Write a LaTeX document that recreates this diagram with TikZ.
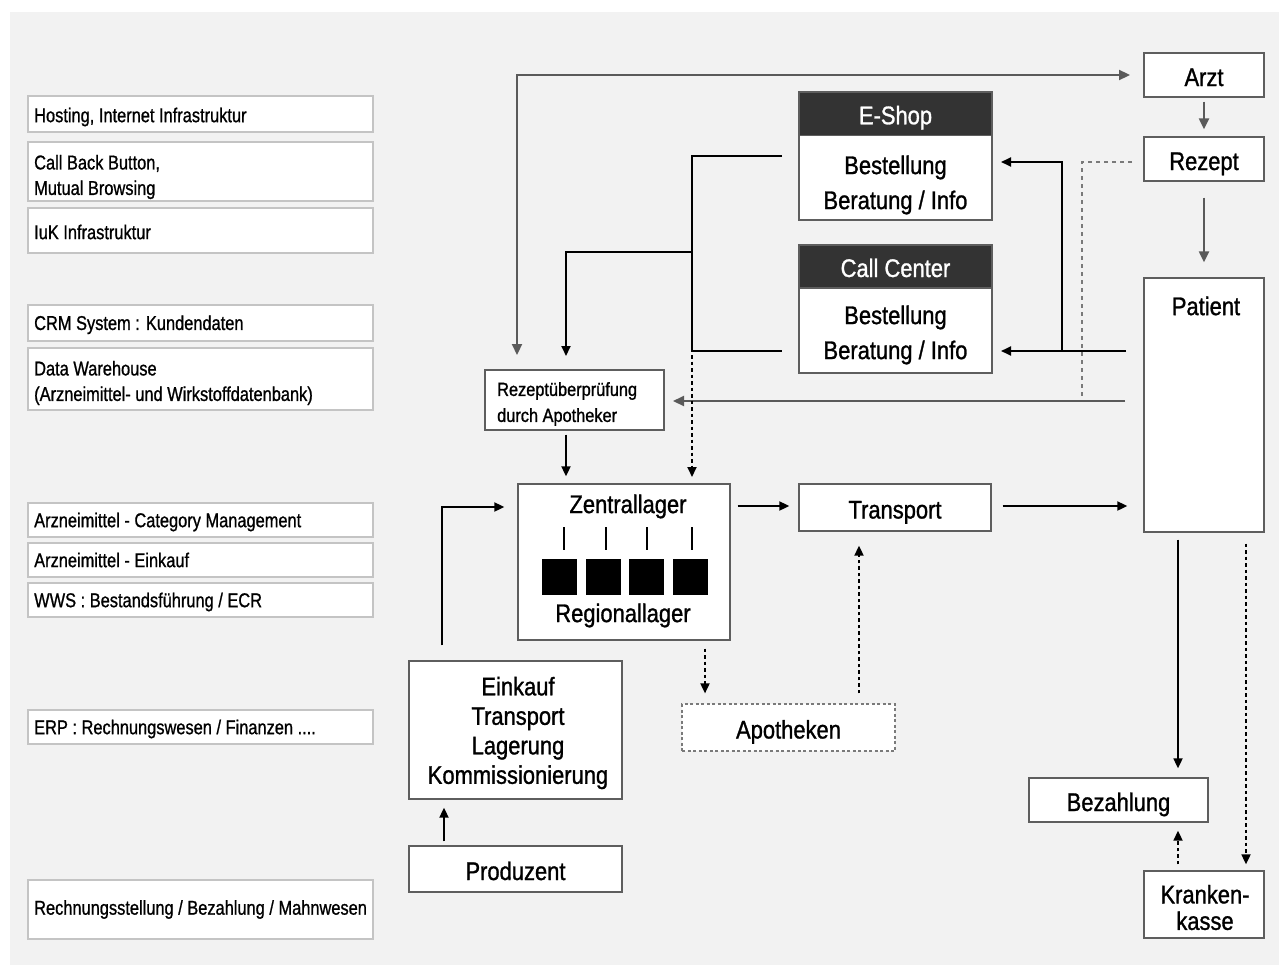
\documentclass[tikz,border=0pt]{standalone}
\usepackage{fontspec}
\setmainfont[FakeStretch=0.86,FakeBold=1.1]{Liberation Sans}
\newfontfamily\leftfont[FakeStretch=0.82,FakeBold=0.9]{Liberation Sans}
\usetikzlibrary{arrows.meta}
\definecolor{bg}{HTML}{F2F2F2}
\definecolor{hdr}{HTML}{333333}
\definecolor{bord}{HTML}{5E5E5E}
\definecolor{lbord}{HTML}{C4C4C4}
\definecolor{garrow}{HTML}{5A5A5A}
\definecolor{gdash}{HTML}{7A7A7A}
\newcommand\lbx[5]{%
  \node[lbox, minimum height=#3] (#1) at (200.5,#2) {};
  \node[ltxt] (#1t) at (34,#4) {#5};}
\begin{document}
\begin{tikzpicture}[x=1pt,y=-1pt,
  lbox/.style={draw=lbord, line width=1.2pt, fill=white, inner sep=0pt, minimum width=345},
  ltxt/.style={anchor=west, inner sep=0pt, align=left, font=\leftfont\fontsize{20}{25.5}\selectfont},
  mbox/.style={draw=bord, line width=1.3pt, fill=white, inner sep=0pt, align=center, font=\fontsize{25.5}{30}\selectfont},
  one/.style={text height=22pt, text depth=0pt},
  hbox/.style={draw=bord, line width=1.3pt, fill=hdr, text=white, inner sep=0pt, font=\fontsize{25.5}{30}\selectfont, text height=21pt, text depth=0pt},
  txt/.style={inner sep=0pt, align=center, font=\fontsize{25.5}{30}\selectfont},
  tip/.style={-{Triangle[length=10pt,width=9pt]}},
  gtip/.style={-{Triangle[length=11pt,width=10pt]}},
  blk/.style={line width=1.8pt, black},
  gry/.style={line width=2.2pt, garrow},
  dots/.style={line width=1.8pt, black, dash pattern=on 3.5pt off 3pt},
]
\useasboundingbox (0,0) rectangle (1279,966);
\fill[white] (0,0) rectangle (1279,966);
\fill[bg] (10,12) rectangle (1279,965);

% left column
\lbx{host}{114}{36}{117}{Hosting, Internet Infrastruktur}
\lbx{cbb}{171.5}{59}{177}{Call Back Button,\\Mutual Browsing}
\lbx{iuk}{230.5}{45}{232}{IuK Infrastruktur}
\lbx{crm}{323}{36}{324.8}{CRM System : Kundendaten}
\lbx{dw}{379}{62}{383}{Data Warehouse\\(Arzneimittel- und Wirkstoffdatenbank)}
\lbx{acm}{520}{34}{522}{Arzneimittel - Category Management}
\lbx{aek}{560}{34}{560}{Arzneimittel - Einkauf}
\lbx{wws}{600}{34}{602}{WWS : Bestandsführung / ECR}
\lbx{erp}{727}{34}{729}{ERP : Rechnungswesen / Finanzen ....}
\lbx{rbm}{909.5}{59}{909.5}{Rechnungsstellung / Bezahlung / Mahnwesen}

% right column
\node[mbox, one, minimum width=120, minimum height=44] (arzt) at (1204,75) {Arzt};
\node[mbox, one, minimum width=120, minimum height=44] (rezept) at (1204,159) {Rezept};
\node[mbox, minimum width=120, minimum height=254] (patient) at (1204,405) {};
\node[txt] (patientlbl) at (1206,306) {Patient};

% E-Shop and Call Center
\node[mbox, minimum width=193, minimum height=128] (eshop) at (895.5,156) {};
\node[hbox, minimum width=193, minimum height=43.5] (eshophead) at (895.5,113.75) {E-Shop};
\node[txt, font=\fontsize{25.5}{35}\selectfont] (eshoptxt) at (895.5,185) {Bestellung\\Beratung / Info};
\node[mbox, minimum width=193, minimum height=128] (cc) at (895.5,309) {};
\node[hbox, minimum width=193, minimum height=43] (cchead) at (895.5,266.5) {Call Center};
\node[txt, font=\fontsize{25.5}{35}\selectfont] (cctxt) at (895.5,335) {Bestellung\\Beratung / Info};

% Rezeptpruefung
\node[mbox, minimum width=179, minimum height=60] (rezpr) at (574.5,400) {};
\node[txt, anchor=west, align=left, font=\fontsize{19}{26}\selectfont] (rezprtxt) at (497,404) {Rezeptüberprüfung\\durch Apotheker};

% Zentrallager
\node[mbox, minimum width=212, minimum height=156] (zentral) at (624,562) {};
\node[txt] (zentrallbl) at (628,506.5) {Zentrallager};
\node[txt] (regionallbl) at (623,615.5) {Regionallager};
\foreach \x in {564,606,647,692} \draw[line width=1.5pt] (\x,527) -- (\x,550);
\foreach \x in {542,586,629,673} \fill[black] (\x,559) rectangle ++(35,36);

\node[mbox, one, minimum width=192, minimum height=47] (transport) at (895,507.5) {Transport};
\node[mbox, minimum width=213, minimum height=138] (einkauf) at (515.5,730) {};
\node[txt, font=\fontsize{25.5}{29.5}\selectfont] (einkauftxt) at (518,733) {Einkauf\\Transport\\Lagerung\\Kommissionierung};
\node[mbox, one, minimum width=213, minimum height=46] (produzent) at (515.5,869) {Produzent};
\node[mbox, one, draw=gdash, line width=1.2pt, dash pattern=on 3pt off 2.5pt, minimum width=213, minimum height=47] (apotheken) at (788.5,727.5) {Apotheken};
\node[mbox, one, minimum width=179, minimum height=44] (bezahlung) at (1118.5,800) {Bezahlung};
\node[mbox, minimum width=120, minimum height=67] (kasse) at (1204,904.5) {};
\node[txt, font=\fontsize{25.5}{26.5}\selectfont] (kassetxt) at (1205,907.5) {Kranken-\\kasse};

% coordinates
\coordinate (tl) at (517,75);
\coordinate (tlb) at (517,355);
\coordinate (tla) at (1130,75);
\coordinate (e1) at (782,156);
\coordinate (j1) at (692,156);
\coordinate (j2) at (692,252);
\coordinate (j3) at (692,351);
\coordinate (c1) at (782,351);
\coordinate (k1) at (566,252);
\coordinate (k2) at (566,356);
\coordinate (zt) at (692,477);
\coordinate (p1) at (1126,351);
\coordinate (p2) at (1062,351);
\coordinate (p3) at (1062,162);
\coordinate (ea) at (1001,162);
\coordinate (ca) at (1001,351);
\coordinate (r1) at (1132,162);
\coordinate (r2) at (1082,162);
\coordinate (r3) at (1082,397);
\coordinate (g1) at (1125,401);
\coordinate (g2) at (673,401);

% connectors
\draw[gry, {Triangle[length=11pt,width=10pt]}-{Triangle[length=11pt,width=10pt]}] (tlb) -- (tl) -- (tla);
\draw[gry, gtip] ([yshift=-4pt]arzt.south) -- ([yshift=7pt]rezept.north);
\draw[gry, gtip] ([yshift=-16pt]rezept.south) -- ([yshift=15pt]patient.north);
\draw[gry, gtip] (g1) -- (g2);
\draw[gdash, line width=1.6pt, dash pattern=on 4pt off 4pt] (r1) -- (r2) -- (r3);

\draw[blk] (e1) -- (j1) -- (j3) -- (c1);
\draw[blk, tip] (j2) -- (k1) -- (k2);
\draw[dots, tip] ([yshift=-4pt]j3) -- (zt);
\draw[blk, tip] (p1) -- (ca);
\draw[blk, tip] (p2) -- (p3) -- (ea);

\draw[blk, tip] ([xshift=-8.5pt,yshift=-4pt]rezpr.south) -- ([xshift=-58pt,yshift=7pt]zentral.north);
\draw[blk, tip] ([xshift=7pt]zentral.east |- 0,506) -- ([xshift=-9pt]transport.west |- 0,506);
\draw[blk, tip] ([xshift=11pt]transport.east |- 0,506) -- ([xshift=-16pt]patient.west |- 0,506);
\draw[blk, tip] ([xshift=-73.5pt,yshift=15pt]einkauf.north) -- ([xshift=-73.5pt]einkauf.north |- 0,507) -- ([xshift=-13pt]zentral.west |- 0,507);
\draw[blk, tip] ([xshift=-71.5pt,yshift=4pt]produzent.north) -- ([xshift=-71.5pt,yshift=-8pt]einkauf.south);
\draw[dots, tip] ([xshift=81pt,yshift=-8pt]zentral.south) -- ([xshift=-83.5pt,yshift=10pt]apotheken.north);
\draw[dots, tip] ([xshift=70.5pt,yshift=10pt]apotheken.north) -- ([xshift=-36pt,yshift=-14pt]transport.south);
\draw[blk, tip] ([xshift=-26pt,yshift=-7pt]patient.south) -- ([xshift=59.5pt,yshift=9pt]bezahlung.north);
\draw[dots, tip] ([xshift=-26pt,yshift=6pt]kasse.north) -- ([xshift=59.5pt,yshift=-8pt]bezahlung.south);
\draw[dots, tip] ([xshift=42pt,yshift=-11pt]patient.south) -- ([xshift=42pt,yshift=6pt]kasse.north);
\end{tikzpicture}
\end{document}
